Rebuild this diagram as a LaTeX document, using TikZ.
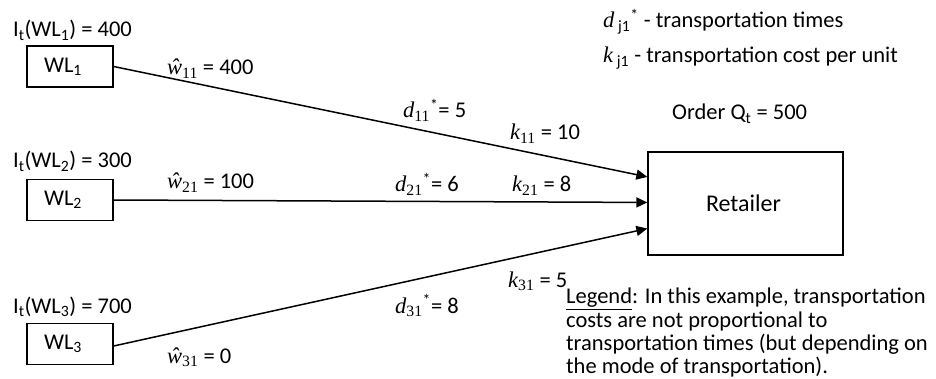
\documentclass[tikz,border=0pt]{standalone}
\usepackage{fontspec}
\setmainfont{Carlito}
\newfontfamily\varfont{Liberation Serif}
\newcommand{\var}[1]{{\varfont\itshape #1}}
\newcommand{\vsub}[1]{\textsubscript{\varfont #1}}
\usetikzlibrary{positioning,arrows.meta,calc}

\begin{document}
\begin{tikzpicture}[
            x=1pt, y=-1pt,
            every node/.style={font=\fontsize{22.5}{23.5}\selectfont},
            box/.style={
                draw,
                line width=1.3pt,
                inner sep=0pt,
                align=center
            },
            lbl/.style={anchor=base west, inner sep=0pt},
            arrow/.style={-{Triangle[length=11pt,width=10pt]}, line width=1.5pt}
        ]
        \useasboundingbox (0,0) rectangle (936,379);

        % warehouses and retailer
        \node[box, minimum width=86pt, minimum height=41pt] (wl1) at (70,66.5) {WL\textsubscript{1}\hspace{14pt}};
        \node[box, minimum width=86pt, minimum height=41pt] (wl2) at (70,200) {WL\textsubscript{2}\hspace{14pt}};
        \node[box, minimum width=86pt, minimum height=41pt] (wl3) at (70,344) {WL\textsubscript{3}\hspace{14pt}};
        \node[box, minimum width=195pt, minimum height=103pt, font=\fontsize{24}{26}\selectfont] (ret) at (745.5,203.5) {Retailer\hspace{4pt}};

        \coordinate (in1) at ($(ret.north west)!0.245!(ret.south west)$);
        \coordinate (in2) at ($(ret.north west)!0.49!(ret.south west)$);
        \coordinate (in3) at ($(ret.north west)!0.74!(ret.south west)$);

        \draw[arrow] (wl1.east) -- (in1);
        \draw[arrow] (wl2.east) -- (in2);
        \draw[arrow] ([yshift=-2pt]wl3.east) -- (in3);

        % stock levels
        \node[lbl] (stock1) at (13,37) {I\textsubscript{t}(WL\textsubscript{1}) = 400};
        \node[lbl] (stock2) at (13,168) {I\textsubscript{t}(WL\textsubscript{2}) = 300};
        \node[lbl] (stock3) at (13,313) {I\textsubscript{t}(WL\textsubscript{3}) = 700};

        % quantities, times and costs
        \node[lbl] (w11) at (167,75) {\var{\^{w}}\vsub{11} = 400};
        \node[lbl] (w21) at (167,189) {\var{\^{w}}\vsub{21} = 100};
        \node[lbl] (w31) at (167,363) {\var{\^{w}}\vsub{31} = 0};
        \node[lbl] (d11) at (403,118) {\var{d}\vsub{11}\textsuperscript{*}= 5};
        \node[lbl] (d21) at (395,192) {\var{d}\vsub{21}\textsuperscript{*}= 6};
        \node[lbl] (d31) at (395,313) {\var{d}\vsub{31}\textsuperscript{*}= 8};
        \node[lbl] (k11) at (510,140) {\var{k}\vsub{11} = 10};
        \node[lbl] (k21) at (512,192) {\var{k}\vsub{21} = 8};
        \node[lbl] (k31) at (508,287) {\var{k}\vsub{31} = 5};

        \node[lbl] (order) at (672,120) {Order Q\textsubscript{t} = 500};

        % key
        \node[lbl] (keyd) at (603,28) {\var{d}\,\textsubscript{j1}\textsuperscript{*} - transportation times};
        \node[lbl] (keyk) at (603,63) {\var{k}\,\textsubscript{j1} - transportation cost per unit};

        \node[anchor=north west, inner sep=0pt, align=left, font=\fontsize{22.5}{23.2}\selectfont] (legend) at (566,288)
            {\underline{Legend}: In this example, transportation\\
             costs are not proportional to\\
             transportation times (but depending on\\
             the mode of transportation).};

        \end{tikzpicture}
\end{document}
